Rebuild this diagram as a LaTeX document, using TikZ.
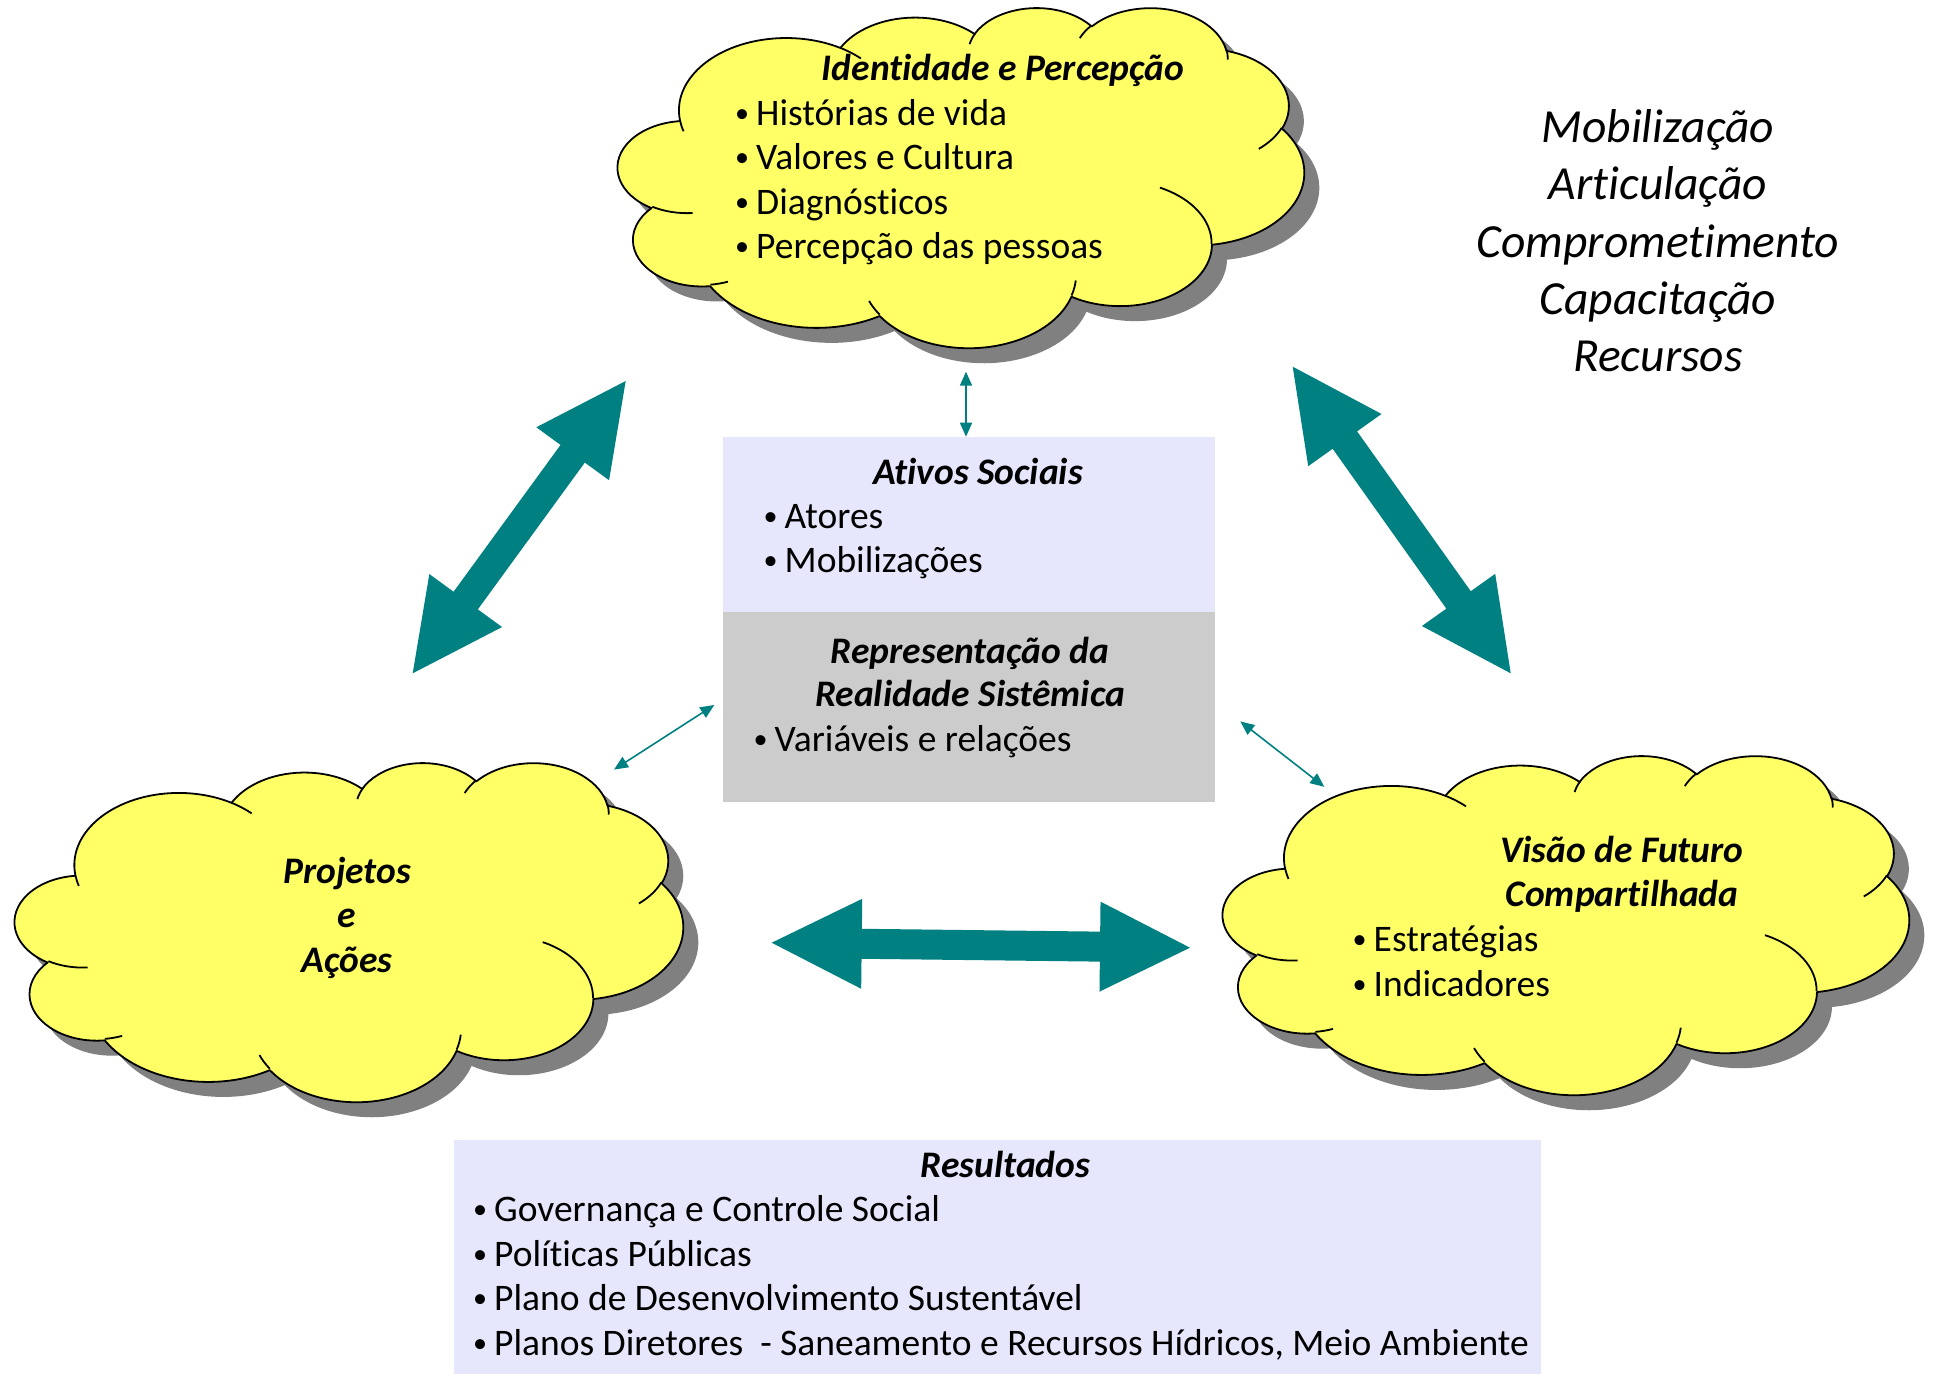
\documentclass[tikz,border=0pt]{standalone}
\usepackage{fontspec}
\usepackage{graphicx}
\setmainfont{Carlito}[Ligatures={TeX,NoCommon}]
\usetikzlibrary{arrows.meta,calc}
\definecolor{cloudyellow}{RGB}{255,255,102}
\definecolor{shadowgray}{RGB}{128,128,128}
\definecolor{arrteal}{RGB}{0,128,128}
\definecolor{lav}{RGB}{230,230,252}
\definecolor{boxgray}{RGB}{204,204,204}
\newcommand\mybul{\makebox[21pt][l]{\raisebox{3pt}{\scalebox{0.75}{•}}}}
\tikzset{
  ca/.style n args={4}{x radius=#1pt, y radius=#2pt,
    start angle={atan2((#1)*sin(#3),(#2)*cos(#3))},
    delta angle={mod(atan2((#1)*sin((#3)+(#4)),(#2)*cos((#3)+(#4)))-atan2((#1)*sin(#3),(#2)*cos(#3))+720,360)}},
  txt/.style={inner sep=0pt, font=\fontsize{37.5}{44.5}\selectfont},
  ttl/.style={inner sep=0pt, font=\fontsize{37.5}{44.5}\selectfont\bfseries\itshape},
  rlist/.style={inner sep=0pt, font=\fontsize{47.5}{57}\selectfont\itshape},
  sarr/.style={line width=1.6pt, draw=arrteal,
    arrows={Triangle[length=14pt,width=12pt]-Triangle[length=14pt,width=12pt]}},
  cloudline/.style={line width=1.8pt, draw=black, line join=round},
}
\newcommand\cloudoutline{(39,143.7)
 arc[ca={67.53}{91.90}{-190.48748}{123.78053}]
 arc[ca={53.33}{72.67}{-144.10238}{89.94523}]
 arc[ca={43.65}{59.45}{-145.80792}{99.72302}]
 arc[ca={48.57}{65.95}{-130.98607}{117.24173}]
 arc[ca={53.33}{72.73}{-78.70888}{109.02692}]
 arc[ca={67.75}{92.20}{-46.26725}{130.269}]
 arc[ca={57.85}{78.67}{0.62502}{114.03333}]
 arc[ca={67.52}{92.15}{22.4516}{115.17255}]
 arc[ca={77.20}{105.43}{66.24263}{75.71102}]
 arc[ca={43.60}{59.18}{-274.94208}{146.73557}]
 arc[ca={43.45}{59.45}{-246.8285}{152.51885}]
 -- cycle}
\newcommand\cloudinner{
 (46.93,261.77) arc[ca={43.45}{59.45}{86.742}{26.4295}]
 (69.28,348.99) arc[ca={43.60}{59.18}{73.61047}{11.44747}]
 (164.78,390.90) arc[ca={67.52}{92.15}{137.62415}{14.0811}]
 (288.27,347.51) arc[ca={67.52}{92.15}{6.45327}{15.99835}]
 (341.29,229.54) arc[ca={57.85}{78.67}{-70.29235}{70.91737}]
 (417.98,153.54) arc[ca={53.33}{72.73}{30.31803}{27.7515}]
 (383.24,54.26) arc[ca={48.57}{65.95}{-13.74433}{14.8589}]
 (290.78,39.52) arc[ca={48.57}{65.95}{-149.18145}{18.19537}]
 (221.41,47.20) arc[ca={43.65}{59.45}{-163.49427}{17.68635}]
 (140.00,51.92) arc[ca={67.53}{91.90}{-66.70695}{12.31935}]
 (41.27,157.89) arc[ca={67.53}{91.90}{157.65435}{11.85817}]
}
\newcommand\drawcloud[5]{%
 \node[inner sep=0pt, minimum width=#4, minimum height=#5, anchor=north west] (#1) at (#2,-#3) {};
 \begin{scope}[shift={(#2+15,-#3-15)}, xscale=#4/432, yscale=-#5/432]
  \fill[shadowgray] \cloudoutline;
 \end{scope}
 \begin{scope}[shift={(#2,-#3)}, xscale=#4/432, yscale=-#5/432]
  \filldraw[fill=cloudyellow, cloudline] \cloudoutline;
  \draw[cloudline] \cloudinner;
 \end{scope}
}
\newcommand\bigarrow[2]{%
 \fill[arrteal] let \p1=(#1), \p2=(#2), \n1={atan2(\y2-\y1,\x2-\x1)}, \n2={veclen(\x2-\x1,\y2-\y1)} in
  (\p1) -- ++(\n1+26.565:100.62) -- ++(\n1-90:30) -- ++(\n1:\n2-180) -- ++(\n1+90:30) -- (\p2)
  -- ++(\n1+206.565:100.62) -- ++(\n1+90:30) -- ++(\n1+180:\n2-180) -- ++(\n1-90:30) -- cycle;}
\begin{document}
\begin{tikzpicture}[x=1pt,y=1pt]
\fill[white] (0,0) rectangle (1937,-1375);
\useasboundingbox (0,0) rectangle (1937,-1375);

% clouds
\drawcloud{cloudTop}{618}{7}{686}{340}
\drawcloud{cloudLeft}{15}{762}{668}{339}
\drawcloud{cloudRight}{1223}{755}{686}{339}

% central boxes
\node[fill=lav, inner sep=0pt, minimum width=491.7, minimum height=175, anchor=north west] (ativos) at (722.6,-436.7) {};
\node[fill=boxgray, inner sep=0pt, minimum width=491.7, minimum height=190, anchor=north west] (repr) at (722.6,-611.7) {};
\node[fill=lav, inner sep=0pt, minimum width=1087, minimum height=234, anchor=north west] (result) at (453.4,-1140.2) {};

% top cloud text
\node[ttl, anchor=base] (idT) at (1003,-80.4) {Identidade e Percepção};
\node[txt, anchor=base west] (id1) at (735,-125.3) {\mybul Histórias de vida};
\node[txt, anchor=base west] (id2) at (735,-170.0) {\mybul Valores e Cultura};
\node[txt, anchor=base west] (id3) at (735,-214.2) {\mybul Diagnósticos};
\node[txt, anchor=base west] (id4) at (735,-258.7) {\mybul Percepção das pessoas};

% right list
\node[rlist, anchor=base] (r1) at (1658,-142.1) {Mobilização};
\node[rlist, anchor=base] (r2) at (1658,-199.5) {Articulação};
\node[rlist, anchor=base] (r3) at (1658,-257.0) {Comprometimento};
\node[rlist, anchor=base] (r4) at (1658,-314.5) {Capacitação};
\node[rlist, anchor=base] (r5) at (1658,-371.9) {Recursos};

% ativos text
\node[ttl, anchor=base] (atT) at (978,-484) {Ativos Sociais};
\node[txt, anchor=base west] (at1) at (763.5,-528.2) {\mybul Atores};
\node[txt, anchor=base west] (at2) at (763.5,-572.2) {\mybul Mobilizações};

% representacao text
\node[ttl, anchor=base] (reT1) at (970,-663.2) {Representação da};
\node[ttl, anchor=base] (reT2) at (970,-706.5) {Realidade Sistêmica};
\node[txt, anchor=base west] (re1) at (753.5,-751.5) {\mybul Variáveis e relações};

% left cloud text
\node[ttl, anchor=base] (pj1) at (347,-883.4) {Projetos};
\node[ttl, anchor=base] (pj2) at (347,-927.7) {e};
\node[ttl, anchor=base] (pj3) at (347,-972.0) {Ações};

% right cloud text
\node[ttl, anchor=base] (vf1) at (1622,-862.4) {Visão de Futuro};
\node[ttl, anchor=base] (vf2) at (1622,-906.3) {Compartilhada};
\node[txt, anchor=base west] (vf3) at (1352.5,-951.3) {\mybul Estratégias};
\node[txt, anchor=base west] (vf4) at (1352.5,-996.0) {\mybul Indicadores};

% results text
\node[ttl, anchor=base] (rsT) at (1005.5,-1177.4) {Resultados};
\node[txt, anchor=base west] (rs1) at (473,-1221.9) {\mybul Governança e Controle Social};
\node[txt, anchor=base west] (rs2) at (473,-1266.3) {\mybul Políticas Públicas};
\node[txt, anchor=base west] (rs3) at (473,-1310.8) {\mybul Plano de Desenvolvimento Sustentável};
\node[txt, anchor=base west] (rs4) at (473,-1355.3) {\mybul Planos Diretores\ \ - Saneamento e Recursos Hídricos, Meio Ambiente};

% big arrows
\coordinate (bl1) at (412.7,-673.3);
\coordinate (bl2) at (625.7,-381.0);
\coordinate (br1) at (1292.7,-366.7);
\coordinate (br2) at (1510.7,-673.3);
\coordinate (bh1) at (771.7,-942.7);
\coordinate (bh2) at (1190.0,-947.7);
\bigarrow{bl1}{bl2}
\bigarrow{br1}{br2}
\bigarrow{bh1}{bh2}

% small arrows
\coordinate (st1) at (966,-371.7);
\draw[sarr] (st1) -- (st1 |- ativos.north);
\coordinate (sl1) at (614,-769.6);
\coordinate (sl2) at (714.3,-705.0);
\draw[sarr] (sl1) -- (sl2);
\coordinate (sr1) at (1240.3,-721.4);
\coordinate (sr2) at (1324.3,-786.8);
\draw[sarr] (sr1) -- (sr2);
\end{tikzpicture}
\end{document}
